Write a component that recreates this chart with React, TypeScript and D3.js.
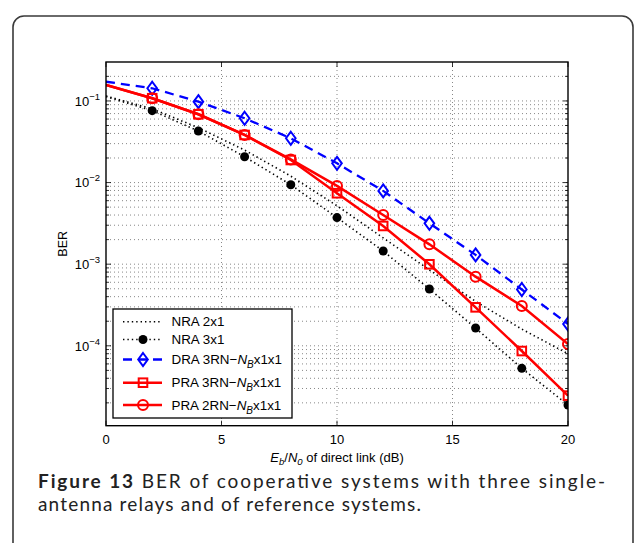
import React from "react";
import * as d3 from "d3";

const snr = [0, 2, 4, 6, 8, 10, 12, 14, 16, 18, 20];
const nra2x1 = [0.115, 0.08, 0.047, 0.025, 0.012, 0.0052, 0.0021, 0.00085, 0.00035, 0.00016, 0.00008];
const nra3x1 = [0.113, 0.076, 0.0428, 0.0207, 0.0094, 0.00372, 0.00145, 0.000496, 0.000165, 0.000053, 0.0000188];
const dra3rn = [0.172, 0.143, 0.098, 0.0614, 0.0349, 0.0172, 0.0079, 0.00317, 0.0013, 0.00049, 0.000185];
const pra3rn = [0.157, 0.108, 0.0687, 0.0383, 0.0189, 0.0074, 0.00294, 0.000997, 0.000296, 0.0000863, 0.0000245];
const pra2rn = [0.157, 0.108, 0.0687, 0.0383, 0.0192, 0.0091, 0.004, 0.00175, 0.000703, 0.000307, 0.000105];
const xTicks = [0, 5, 10, 15, 20];
const yDecades = [-5, -4, -3, -2, -1];

const W = 635, H = 543;
const L = 106, R = 568, T = 62, B = 425.7;
const FONT = "'Liberation Sans', Arial, Helvetica, sans-serif";

type Marker = "none" | "dot" | "diamond" | "square" | "circle";
interface Series { name: string; sub: boolean; values: number[]; color: string; width: number; dash: string; marker: Marker; }

const series: Series[] = [
  { name: "NRA 2x1", sub: false, values: nra2x1, color: "#000", width: 1.6, dash: "1.4,3", marker: "none" },
  { name: "NRA 3x1", sub: false, values: nra3x1, color: "#000", width: 1.6, dash: "1.4,3", marker: "dot" },
  { name: "DRA 3RN", sub: true, values: dra3rn, color: "#0000ff", width: 2.3, dash: "9,6", marker: "diamond" },
  { name: "PRA 3RN", sub: true, values: pra3rn, color: "#ff0000", width: 2.5, dash: "", marker: "square" },
  { name: "PRA 2RN", sub: true, values: pra2rn, color: "#ff0000", width: 2.5, dash: "", marker: "circle" },
];

function MarkerShape({ m, x, y, color }: { m: Marker; x: number; y: number; color: string }) {
  if (m === "dot") return <circle cx={x} cy={y} r={4.5} fill="#000" />;
  if (m === "diamond") return <path d={`M${x},${y - 6.5} L${x + 4.8},${y} L${x},${y + 6.5} L${x - 4.8},${y} Z`} fill="none" stroke={color} strokeWidth={2} />;
  if (m === "square") return <rect x={x - 4.3} y={y - 4.3} width={8.6} height={8.6} fill="none" stroke={color} strokeWidth={2} />;
  if (m === "circle") return <circle cx={x} cy={y} r={5} fill="none" stroke={color} strokeWidth={2} />;
  return null;
}

export default function App() {
  const x = d3.scaleLinear().domain([0, 20]).range([L, R]);
  const y = d3.scaleLog().domain([1.05e-5, 0.3]).range([B, T]);
  const line = d3.line<number>().x((_, i) => x(snr[i])).y((v) => y(v));

  const minor: number[] = [];
  yDecades.forEach((e) => {
    for (let k = 1; k <= 9; k++) {
      const v = k * Math.pow(10, e);
      if (v >= 1.05e-5 && v <= 0.3) minor.push(v);
    }
  });

  const legX = 113, legY = 309, legW = 179, legH = 109;
  const rows = [321.7, 339.5, 359.5, 382.7, 405];

  return (
    <svg width={W} height={H} style={{ position: "absolute", left: 0, top: 0, background: "#fff" }}>
      <rect x={13} y={16} width={620} height={600} rx={11} fill="#fff" stroke="#3a3a3a" strokeWidth={1.6} />
      <defs>
        <clipPath id="plot"><rect x={L} y={T} width={R - L} height={B - T} /></clipPath>
      </defs>
      {/* grid */}
      <g stroke="#555" strokeWidth={0.7} strokeDasharray="1,3">
        {xTicks.slice(1, -1).map((t) => <line key={"gx" + t} x1={x(t)} x2={x(t)} y1={T} y2={B} />)}
        {minor.map((v, i) => <line key={"gy" + i} x1={L} x2={R} y1={y(v)} y2={y(v)} />)}
      </g>
      {/* ticks */}
      <g stroke="#000" strokeWidth={0.8}>
        {xTicks.map((t) => (
          <g key={"tx" + t}>
            <line x1={x(t)} x2={x(t)} y1={B} y2={B - 5} />
            <line x1={x(t)} x2={x(t)} y1={T} y2={T + 5} />
          </g>
        ))}
        {minor.map((v, i) => {
          const major = Math.abs(Math.log10(v) - Math.round(Math.log10(v))) < 1e-9;
          const len = major ? 5 : 3;
          return (
            <g key={"ty" + i}>
              <line x1={L} x2={L + len} y1={y(v)} y2={y(v)} />
              <line x1={R} x2={R - len} y1={y(v)} y2={y(v)} />
            </g>
          );
        })}
      </g>
      {/* series */}
      <g clipPath="url(#plot)">
        {series.map((s) => (
          <path key={s.name} d={line(s.values) || ""} fill="none" stroke={s.color} strokeWidth={s.width} strokeDasharray={s.dash || undefined} />
        ))}
        {series.map((s) =>
          s.values.map((v, i) => i === 0 ? null : <MarkerShape key={s.name + i} m={s.marker} x={x(snr[i])} y={y(v)} color={s.color} />)
        )}
      </g>
      <rect x={L} y={T} width={R - L} height={B - T} fill="none" stroke="#000" strokeWidth={1.4} />
      {/* tick labels */}
      <g fontFamily={FONT} fontSize={13} fill="#000">
        {xTicks.map((t) => <text key={"lx" + t} x={x(t)} y={444} textAnchor="middle">{t}</text>)}
        {yDecades.slice(1).map((e) => (
          <text key={"ly" + e} x={100} y={y(Math.pow(10, e)) + 4.7} textAnchor="end">
            10<tspan fontSize={9.5} dy={-6}>{"\u2212" + Math.abs(e)}</tspan>
          </text>
        ))}
        <text x={0} y={0} transform={`translate(67,${(T + B) / 2}) rotate(-90)`} textAnchor="middle" fontSize={12.5}>BER</text>
        <text x={(L + R) / 2} y={462} textAnchor="middle" fontSize={13}>
          <tspan fontStyle="italic">E</tspan><tspan fontStyle="italic" fontSize={9.5} dy={3}>b</tspan>
          <tspan dy={-3}>/</tspan><tspan fontStyle="italic">N</tspan><tspan fontStyle="italic" fontSize={9.5} dy={3}>0</tspan>
          <tspan dy={-3}> of direct link (dB)</tspan>
        </text>
      </g>
      {/* legend */}
      <rect x={legX} y={legY} width={legW} height={legH} fill="#fff" stroke="#000" strokeWidth={1.3} />
      {series.map((s, i) => (
        <g key={"lg" + s.name}>
          <line x1={123} x2={162} y1={rows[i]} y2={rows[i]} stroke={s.color} strokeWidth={s.width} strokeDasharray={s.dash || undefined} />
          <MarkerShape m={s.marker} x={143} y={rows[i]} color={s.color} />
          <text x={171.5} y={rows[i] + 4.7} fontFamily={FONT} fontSize={13.4} fill="#000">
            {s.name}
            {s.sub ? (
              <>
                <tspan>{"\u2212"}</tspan><tspan fontStyle="italic">N</tspan>
                <tspan fontStyle="italic" fontSize={10} dy={4}>B</tspan>
                <tspan dy={-4}>x1x1</tspan>
              </>
            ) : null}
          </text>
        </g>
      ))}
      {/* caption */}
      <g fontFamily="Lato, 'Open Sans', sans-serif" fontSize={19} fill="#222">
        <text x={38} y={488} textLength={567} lengthAdjust="spacing">
          <tspan fontWeight="bold">Figure 13</tspan> BER of cooperative systems with three single-
        </text>
        <text x={38} y={511} textLength={383} lengthAdjust="spacing">antenna relays and of reference systems.</text>
      </g>
    </svg>
  );
}
